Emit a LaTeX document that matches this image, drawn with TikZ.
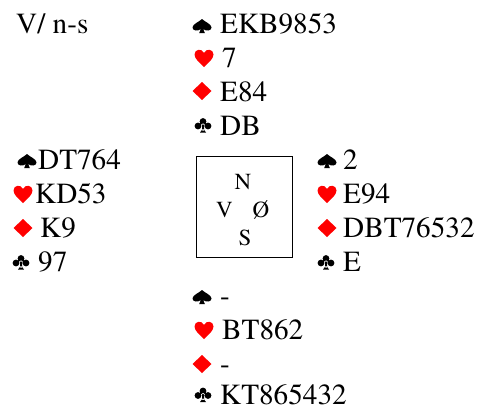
\documentclass[tikz,border=0pt]{standalone}
\usepackage{fontspec}
\newfontfamily\tms{TeX Gyre Termes}
\tikzset{
  txt/.style={anchor=base west, inner sep=0pt, text depth=0pt, font=\tms\fontsize{29.2}{31}\selectfont},
  boxtxt/.style={anchor=base, inner sep=0pt, font=\tms\fontsize{23}{25}\selectfont},
  compass/.style={draw=black, line width=1pt, inner sep=0pt},
  spadesym/.pic={\fill[black] (0,-14) .. controls (3,-11) and (9.5,-9) .. (9.5,-5.5)
      .. controls (9.5,-2) and (4,-1.5) .. (1.2,-4) -- (2.8,0) -- (-2.8,0) -- (-1.2,-4)
      .. controls (-4,-1.5) and (-9.5,-2) .. (-9.5,-5.5) .. controls (-9.5,-9) and (-3,-11) .. cycle;},
  heartsym/.pic={\fill[red] (0,0) .. controls (-4,-4) and (-9.5,-8) .. (-9.5,-12.5)
      .. controls (-9.5,-18) and (-2,-19) .. (0,-14) .. controls (2,-19) and (9.5,-18) .. (9.5,-12.5)
      .. controls (9.5,-8) and (4,-4) .. cycle;},
  diamondsym/.pic={\fill[red] (0,-18) -- (9.5,-9) -- (0,0) -- (-9.5,-9) -- cycle;},
  clubsym/.pic={\fill[black] (0,-11) circle (3.4) (-5,-6.5) circle (3.4) (5,-6.5) circle (3.4)
      (-1,-9) rectangle (1,-2) (0,-4) -- (3,0) -- (-3,0) -- cycle;}
}
\begin{document}
\begin{tikzpicture}[x=1pt,y=-1pt]
\useasboundingbox (0,0) rectangle (479,407);
% dealer / vulnerability
\node[txt] (hdr) at (16,33) {V/ n-s};
% North
\pic at (202,33) {spadesym};   \node[txt] (nst) at (220,33) {EKB9853};
\pic at (204,67) {heartsym};   \node[txt] (nht) at (222,67) {7};
\pic at (202,100) {diamondsym};\node[txt] (ndt) at (220,101) {E84};
\pic at (203,132.5) {clubsym}; \node[txt] (nct) at (220,135) {DB};
% West
\pic at (27,168) {spadesym};   \node[txt] (wst) at (38,169) {DT764};
\pic at (23,203) {heartsym};   \node[txt] (wht) at (35,203) {KD53};
\pic at (23,237) {diamondsym}; \node[txt] (wdt) at (40,237) {K9};
\pic at (21,269.5) {clubsym};  \node[txt] (wct) at (38,271) {97};
% East
\pic at (327,168) {spadesym};  \node[txt] (est) at (343,169) {2};
\pic at (327,203) {heartsym};  \node[txt] (eht) at (343,203) {E94};
\pic at (327,237) {diamondsym};\node[txt] (edt) at (343,237) {DBT76532};
\pic at (326,269.5) {clubsym}; \node[txt] (ect) at (343,271) {E};
% South
\pic at (202,304) {spadesym};  \node[txt] (sst) at (220,305) {-};
\pic at (204,339) {heartsym};  \node[txt] (sht) at (222,339) {BT862};
\pic at (202,373) {diamondsym};\node[txt] (sdt) at (220,373) {-};
\pic at (203,402) {clubsym};   \node[txt] (sct) at (220,404) {KT865432};
% compass box
\node[compass, minimum width=96pt, minimum height=101pt] (box) at (244,206.5) {};
\node[boxtxt] (bn) at (243,189) {N};
\node[boxtxt] (bv) at (224.5,217) {V};
\node[boxtxt] (be) at (261,217) {Ø};
\node[boxtxt] (bs) at (245,245) {S};
\end{tikzpicture}
\end{document}
